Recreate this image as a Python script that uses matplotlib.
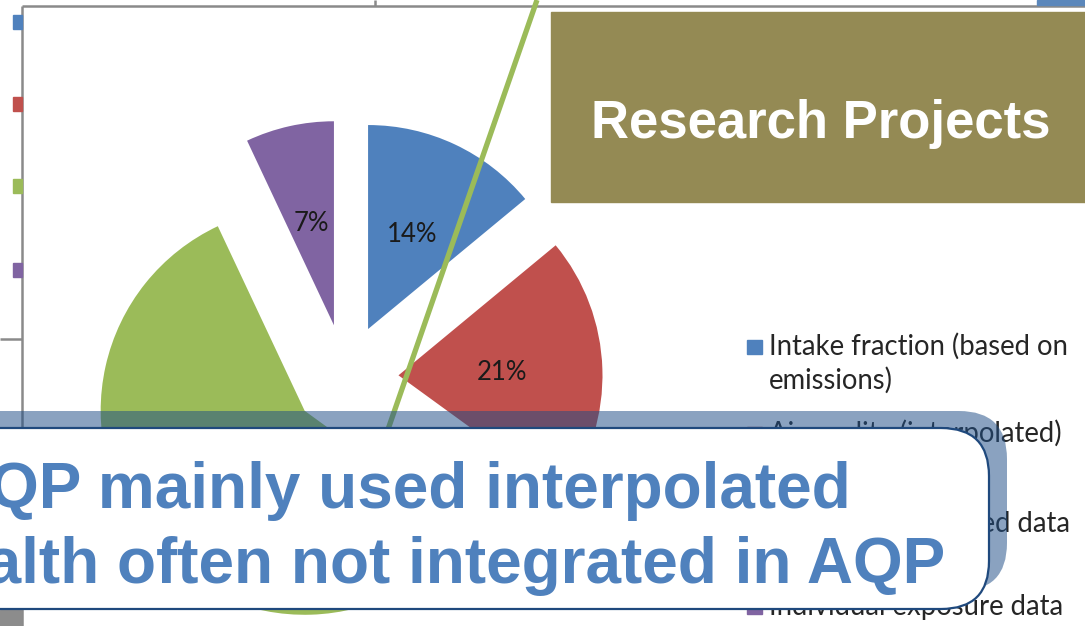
import matplotlib
matplotlib.use("Agg")
import matplotlib.pyplot as plt
from matplotlib.patches import Rectangle, FancyBboxPatch
from matplotlib import font_manager

# ---- data ----
categories = ["Intake fraction (based on\nemissions)",
              "Air quality (interpolated)",
              "Air quality modelled data",
              "Individual exposure data"]
shares = [14, 21, 58, 7]
colors = ["#4F81BD", "#C0504D", "#9BBB59", "#8064A2"]
title_text = "Research Projects"
box_lines = ["AQP mainly used interpolated", "Health often not integrated in AQP"]

names = {f.name for f in font_manager.fontManager.ttflist}
NARROW = "Liberation Sans Narrow" if "Liberation Sans Narrow" in names else "Liberation Sans"
BODY = "Lato"

W, H = 1085, 626
fig = plt.figure(figsize=(W / 100, H / 100), dpi=100)
ax = fig.add_axes([0, 0, 1, 1])

def Y(y):
    return H - y

# background frame lines of slide chart objects
gray = "#8A8A8A"
ax.plot([22, W], [Y(6), Y(6)], color=gray, lw=1.8, zorder=1, solid_capstyle="butt")
ax.plot([22, 22], [Y(6), Y(H)], color=gray, lw=1.8, zorder=1, solid_capstyle="butt")
ax.plot([0, 22], [Y(339), Y(339)], color=gray, lw=1.8, zorder=1, solid_capstyle="butt")
ax.plot([375, 375], [Y(0), Y(6)], color=gray, lw=1.8, zorder=1, solid_capstyle="butt")
ax.add_patch(Rectangle((0, Y(626)), 21, 16, color="#8C8C8C", zorder=1))
ax.add_patch(Rectangle((1037, Y(4.5)), 48, 4.5, color="#5B87BB", zorder=1))
# cropped legend markers of the chart behind
for c, yc in zip(colors, [22, 104, 186, 270]):
    ax.add_patch(Rectangle((13, Y(yc + 7)), 9, 14, color=c, zorder=1))

# pie
wedges, texts, autotexts = ax.pie(
    shares, colors=colors, startangle=90, counterclock=False,
    radius=204, center=(345.5, Y(377)), explode=[53] * len(shares),
    autopct=lambda p: f"{p:.0f}%", pctdistance=0.51,
    wedgeprops=dict(linewidth=0),
    textprops=dict(fontsize=18.5, family=BODY, color="#1A1A1A"))
for w in wedges:
    w.set_zorder(2)
for t in autotexts:
    t.set_zorder(3)

# legend (manual)
leg_base = [355, 442, 532, 615]
for c, lab, b in zip(colors, categories, leg_base):
    ax.add_patch(Rectangle((747, Y(b - 1)), 14.5, 14.5, color=c, zorder=3))
    for j, line in enumerate(lab.split("\n")):
        ax.text(769, Y(b + 34 * j), line, ha="left", va="baseline", fontsize=19.8,
                family=BODY, color="#262626", zorder=3)

# green diagonal line
ax.plot([537, 537 - 0.347 * 520], [Y(0), Y(520)], color="#9BBB59", lw=3.8,
        zorder=4, solid_capstyle="butt")

# olive title box
ax.add_patch(Rectangle((551, Y(202)), W - 551 + 5, 190, color="#948A54", zorder=5))
ax.text(821, Y(138), title_text, ha="center", va="baseline", fontsize=38,
        family=NARROW, weight="bold", color="white", zorder=5)

# shadow + white callout box
ax.add_patch(FancyBboxPatch((-80, Y(591)), 1087, 180,
                            boxstyle="round,pad=0,rounding_size=48",
                            facecolor="#1F4E86", alpha=0.52, edgecolor="none", zorder=6))
ax.add_patch(FancyBboxPatch((-80, Y(609)), 1069, 181,
                            boxstyle="round,pad=0,rounding_size=48",
                            facecolor="white", edgecolor="#1F497D", lw=1.6, zorder=7))
ax.text(851, Y(508), box_lines[0], ha="right", va="baseline", fontsize=46,
        family=NARROW, weight="bold", color="#4F81BD", zorder=8)
ax.text(945, Y(583), box_lines[1], ha="right", va="baseline", fontsize=46,
        family=NARROW, weight="bold", color="#4F81BD", zorder=8)

ax.set_xlim(0, W)
ax.set_ylim(0, H)
ax.set_aspect("auto")
ax.axis("off")
fig.savefig("out.png", dpi=100)
